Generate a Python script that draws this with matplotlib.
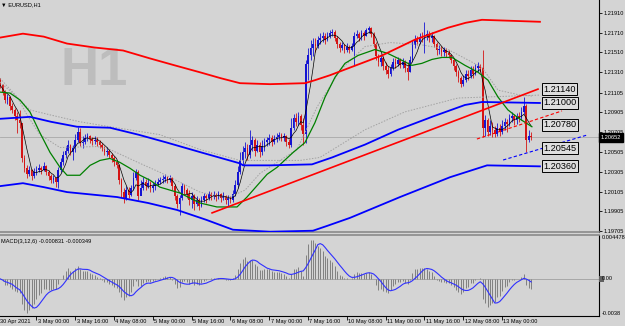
"""MT4-style EURUSD H1 chart with bands, trend lines and a MACD pane -> out.png"""
import matplotlib

matplotlib.use("Agg")
import matplotlib.pyplot as plt  # noqa: E402
import matplotlib.transforms as mtrans  # noqa: E402
from matplotlib.patches import Rectangle  # noqa: E402
import numpy as np  # noqa: E402
import pandas as pd  # noqa: E402

plt.rcParams["font.family"] = ["Liberation Sans", "DejaVu Sans"]

BG = "#d4d4d4"

# hourly bars; bar 0 = 3 May 00:00, first visible bar = 30 Apr 09:00
FIRST_BAR = -15
open_first = 1.2125
close = [
    1.2118, 1.2111, 1.2103, 1.2106, 1.2097, 1.2093, 1.2087, 1.2083, 1.2080, 1.2044,
    1.2034, 1.2028, 1.2032, 1.2026, 1.2030, 1.2032, 1.2034, 1.2032, 1.2036, 1.2030,
    1.2026, 1.2022, 1.2024, 1.2020, 1.2032, 1.2040, 1.2047, 1.2052, 1.2058, 1.2050,
    1.2055, 1.2063, 1.2071, 1.2060, 1.2061, 1.2065, 1.2067, 1.2064, 1.2062, 1.2063,
    1.2061, 1.2058, 1.2055, 1.2050, 1.2052, 1.2047, 1.2044, 1.2040, 1.2037, 1.2022,
    1.2010, 1.2004, 1.2012, 1.2007, 1.2014, 1.2024, 1.2030, 1.2006, 1.2014, 1.2020,
    1.2016, 1.2019, 1.2014, 1.2016, 1.2018, 1.2020, 1.2022, 1.2023, 1.2025, 1.2022,
    1.2024, 1.2016, 1.2006, 1.1998, 1.2004, 1.2016, 1.2012, 1.2008, 1.2002, 1.2006,
    1.1998, 1.2002, 1.1996, 1.2002, 1.2006, 1.2004, 1.2008, 1.2006, 1.2007, 1.2005,
    1.2008, 1.2004, 1.2006, 1.2002, 1.2004, 1.2002, 1.2008, 1.2017, 1.2030, 1.2042,
    1.2050, 1.2055, 1.2047, 1.2058, 1.2063, 1.2052, 1.2058, 1.2050, 1.2057, 1.2061,
    1.2063, 1.2065, 1.2061, 1.2064, 1.2066, 1.2068, 1.2065, 1.2067, 1.2061, 1.2058,
    1.2075, 1.2085, 1.2081, 1.2087, 1.2078, 1.2069, 1.2139, 1.2148, 1.2156, 1.2160,
    1.2158, 1.2164, 1.2166, 1.2168, 1.2164, 1.2168, 1.2171, 1.2172, 1.2166, 1.2160,
    1.2156, 1.2159, 1.2153, 1.2157, 1.2153, 1.2158, 1.2168, 1.2170, 1.2166, 1.2171,
    1.2168, 1.2174, 1.2176, 1.2170, 1.2160, 1.2147, 1.2141, 1.2145, 1.2137, 1.2133,
    1.2129, 1.2135, 1.2141, 1.2139, 1.2143, 1.2138, 1.2141, 1.2135, 1.2131, 1.2143,
    1.2159, 1.2164, 1.2162, 1.2167, 1.2166, 1.2169, 1.2170, 1.2166, 1.2168, 1.2160,
    1.2153, 1.2155, 1.2151, 1.2153, 1.2150, 1.2148, 1.2143, 1.2137, 1.2131, 1.2125,
    1.2119, 1.2123, 1.2129, 1.2127, 1.2133, 1.2129, 1.2135, 1.2137, 1.2135, 1.2075,
    1.2083, 1.2071, 1.2077, 1.2073, 1.2069, 1.2075, 1.2071, 1.2077, 1.2081, 1.2079,
    1.2085, 1.2087, 1.2083, 1.2087, 1.2085, 1.2091, 1.2097, 1.2063, 1.2067, 1.20652,
]
high = [
    1.2123, 1.2119, 1.2113, 1.2109, 1.2107, 1.2100, 1.2095, 1.2091, 1.2093, 1.2080,
    1.2047, 1.2037, 1.2036, 1.2033, 1.2034, 1.2036, 1.2038, 1.2036, 1.2040, 1.2037,
    1.2032, 1.2028, 1.2027, 1.2025, 1.2035, 1.2044, 1.2052, 1.2057, 1.2063, 1.2059,
    1.2058, 1.2069, 1.2076, 1.2075, 1.2067, 1.2069, 1.2070, 1.2068, 1.2066, 1.2067,
    1.2066, 1.2063, 1.2060, 1.2057, 1.2056, 1.2054, 1.2049, 1.2046, 1.2042, 1.2038,
    1.2024, 1.2014, 1.2016, 1.2015, 1.2017, 1.2030, 1.2033, 1.2032, 1.2022, 1.2025,
    1.2023, 1.2024, 1.2021, 1.2020, 1.2022, 1.2024, 1.2025, 1.2027, 1.2028, 1.2026,
    1.2027, 1.2025, 1.2018, 1.2008, 1.2007, 1.2019, 1.2018, 1.2014, 1.2012, 1.2010,
    1.2008, 1.2006, 1.2004, 1.2006, 1.2009, 1.2008, 1.2011, 1.2010, 1.2011, 1.2009,
    1.2011, 1.2009, 1.2010, 1.2007, 1.2007, 1.2006, 1.2012, 1.2022, 1.2036, 1.2050,
    1.2057, 1.2061, 1.2059, 1.2073, 1.2067, 1.2065, 1.2063, 1.2061, 1.2063, 1.2065,
    1.2066, 1.2069, 1.2068, 1.2068, 1.2070, 1.2071, 1.2070, 1.2070, 1.2068, 1.2064,
    1.2085, 1.2089, 1.2090, 1.2091, 1.2089, 1.2085, 1.2143, 1.2156, 1.2164, 1.2166,
    1.2166, 1.2168, 1.2171, 1.2172, 1.2171, 1.2172, 1.2174, 1.2175, 1.2174, 1.2168,
    1.2162, 1.2162, 1.2160, 1.2161, 1.2159, 1.2161, 1.2172, 1.2174, 1.2172, 1.2174,
    1.2173, 1.2176, 1.2178, 1.2177, 1.2172, 1.2162, 1.2149, 1.2149, 1.2147, 1.2141,
    1.2137, 1.2139, 1.2145, 1.2145, 1.2146, 1.2145, 1.2145, 1.2143, 1.2141, 1.2147,
    1.2164, 1.2169, 1.2168, 1.2171, 1.2172, 1.2182, 1.2174, 1.2173, 1.2172, 1.2169,
    1.2162, 1.2159, 1.2158, 1.2157, 1.2156, 1.2153, 1.2149, 1.2145, 1.2139, 1.2133,
    1.2127, 1.2128, 1.2133, 1.2133, 1.2137, 1.2137, 1.2139, 1.2141, 1.2139, 1.2153,
    1.2088, 1.2085, 1.2083, 1.2081, 1.2077, 1.2080, 1.2079, 1.2083, 1.2085, 1.2084,
    1.2089, 1.2091, 1.2089, 1.2090, 1.2091, 1.2096, 1.2106, 1.2099, 1.2073, 1.2071,
]
low = [
    1.2115, 1.2108, 1.2100, 1.2099, 1.2093, 1.2090, 1.2083, 1.2070, 1.2075, 1.2040,
    1.2030, 1.2024, 1.2026, 1.2022, 1.2024, 1.2027, 1.2030, 1.2028, 1.2031, 1.2027,
    1.2022, 1.2019, 1.2019, 1.2015, 1.2014, 1.2030, 1.2037, 1.2044, 1.2049, 1.2047,
    1.2042, 1.2050, 1.2061, 1.2057, 1.2055, 1.2059, 1.2062, 1.2060, 1.2058, 1.2059,
    1.2057, 1.2055, 1.2051, 1.2047, 1.2046, 1.2044, 1.2040, 1.2036, 1.2034, 1.2018,
    1.2005, 1.1999, 1.2002, 1.2004, 1.2006, 1.2012, 1.2022, 1.2002, 1.2007, 1.2012,
    1.2012, 1.2014, 1.2010, 1.2010, 1.2012, 1.2016, 1.2018, 1.2019, 1.2020, 1.2019,
    1.2020, 1.2012, 1.2002, 1.1994, 1.1987, 1.2002, 1.2008, 1.2004, 1.1997, 1.1994,
    1.1992, 1.1996, 1.1992, 1.1995, 1.2000, 1.1999, 1.2002, 1.2002, 1.2003, 1.2001,
    1.2003, 1.2000, 1.2002, 1.1998, 1.1996, 1.1999, 1.2000, 1.2006, 1.2014, 1.2028,
    1.2037, 1.2044, 1.2042, 1.2044, 1.2052, 1.2046, 1.2050, 1.2045, 1.2047, 1.2052,
    1.2057, 1.2058, 1.2057, 1.2059, 1.2061, 1.2063, 1.2062, 1.2062, 1.2057, 1.2055,
    1.2056, 1.2073, 1.2077, 1.2078, 1.2073, 1.2058, 1.2060, 1.2123, 1.2143, 1.2147,
    1.2151, 1.2156, 1.2160, 1.2162, 1.2160, 1.2163, 1.2166, 1.2168, 1.2163, 1.2156,
    1.2151, 1.2153, 1.2150, 1.2151, 1.2150, 1.2152, 1.2138, 1.2166, 1.2163, 1.2164,
    1.2164, 1.2168, 1.2171, 1.2167, 1.2157, 1.2143, 1.2137, 1.2137, 1.2133, 1.2129,
    1.2125, 1.2127, 1.2133, 1.2135, 1.2137, 1.2135, 1.2135, 1.2131, 1.2123, 1.2131,
    1.2141, 1.2156, 1.2159, 1.2160, 1.2162, 1.2150, 1.2164, 1.2162, 1.2162, 1.2157,
    1.2148, 1.2149, 1.2147, 1.2147, 1.2146, 1.2145, 1.2140, 1.2133, 1.2127, 1.2121,
    1.2116, 1.2117, 1.2121, 1.2123, 1.2125, 1.2125, 1.2128, 1.2131, 1.2131, 1.2066,
    1.2067, 1.2067, 1.2068, 1.2066, 1.2066, 1.2067, 1.2067, 1.2069, 1.2073, 1.2071,
    1.2077, 1.2081, 1.2078, 1.2079, 1.2081, 1.2083, 1.2089, 1.2050, 1.2061, 1.2063,
]

# indicator lines: (bar index, price) vertices
red_band_i = [-15.1, -5.6, 3.0, 12.6, 24.0, 35.7, 46.8, 57.0, 67.4, 76.0, 83.9, 96.3,
              110.7, 114.8, 121.0, 128.5, 142.5, 156.1, 169.7, 177.0, 183.7, 207.6]
red_band_p = [1.2166, 1.2170, 1.2167, 1.2160, 1.2156, 1.2153, 1.2145, 1.2138, 1.2131, 1.2125,
              1.2120, 1.2119, 1.2120, 1.2123, 1.2128, 1.2135, 1.2148, 1.2164, 1.2176, 1.2181,
              1.2184, 1.2182]
upper_blue_i = [-15.1, -2.7, 6.0, 16.7, 30.3, 42.0, 53.8, 68.0, 83.9, 85.2, 96.3, 113.6,
                121.9, 135.5, 149.1, 163.1, 176.7, 183.7, 207.6]
upper_blue_p = [1.2084, 1.2086, 1.2081, 1.2076, 1.2075, 1.2068, 1.2060, 1.2050, 1.2039,
                1.2037, 1.2037, 1.2038, 1.2045, 1.2058, 1.2073, 1.2086, 1.2098, 1.2101, 1.2100]
lower_blue_i = [-15.1, -5.6, 3.0, 12.6, 33.2, 46.0, 57.9, 70.0, 81.0, 96.3, 114.0, 120.0,
                129.3, 149.9, 170.5, 185.8, 207.6]
lower_blue_p = [1.2016, 1.2019, 1.2015, 1.2010, 1.2005, 1.1999, 1.1992, 1.1982, 1.1972,
                1.1970, 1.1971, 1.1976, 1.1984, 1.2005, 1.2025, 1.2037, 1.2036]
green_i = [-15.1, -10.9, -6.8, -2.7, 1.4, 5.6, 9.7, 12.6, 17.9, 22.1, 26.2, 30.3,
           34.4, 38.6, 42.7, 46.8, 50.9, 59.2, 67.4, 74.4, 82.7, 86.8, 92.2, 95.1,
           99.2, 105.8, 110.7, 114.8, 119.0, 123.1, 127.2, 132.6, 139.6, 144.9, 149.1,
           154.8, 158.9, 163.1, 167.2, 171.3, 176.7, 182.1, 186.2, 190.3, 194.4, 198.6, 204.3]
green_p = [1.2111, 1.2110, 1.2103, 1.2091, 1.2070, 1.2050, 1.2035, 1.2027, 1.2027, 1.2037,
           1.2042, 1.2044, 1.2040, 1.2034, 1.2027, 1.2022, 1.2015, 1.2009, 1.1999, 1.1995,
           1.1995, 1.2005, 1.2020, 1.2028, 1.2035, 1.2050, 1.2060, 1.2080, 1.2106, 1.2126,
           1.2140, 1.2148, 1.2154, 1.2150, 1.2145, 1.2138, 1.2140, 1.2144, 1.2146, 1.2146,
           1.2138, 1.2131, 1.2123, 1.2106, 1.2093, 1.2085, 1.2076]
dot_a_i = [-15.1, -8.9, -2.7, 5.6, 17.9, 30.3, 50.9, 67.4, 83.9, 108.7, 116.9,
           135.5, 151.9, 173.8, 207.6]
dot_a_p = [1.2121, 1.2108, 1.2093, 1.2088, 1.2081, 1.2076, 1.2068, 1.2053, 1.2042, 1.2042,
           1.2045, 1.2073, 1.2091, 1.2105, 1.2108]
dot_b_i = [-15.1, -8.0, -3.9, 1.4, 9.7, 24.9, 30.3, 42.7, 50.9, 67.4, 78.6, 86.0,
           92.2, 107.4, 115.7, 125.2, 135.5, 145.8, 158.1, 169.7, 183.7, 190.3, 199.4, 204.3]
dot_b_p = [1.2125, 1.2106, 1.2088, 1.2068, 1.2055, 1.2056, 1.2053, 1.2039, 1.2030, 1.2010,
           1.2004, 1.2012, 1.2029, 1.2053, 1.2096, 1.2133, 1.2157, 1.2161, 1.2159, 1.2154,
           1.2136, 1.2113, 1.2108, 1.2107]
trend_i, trend_p = [72.4, 206.8], [1.1989, 1.2114]
red_dash_i, red_dash_p = [181.6, 216.7], [1.20636, 1.2092]
blue_dash_i, blue_dash_p = [192.4, 227.0], [1.20424, 1.20676]

line_labels = ["1.21140", "1.21000", "1.20780", "1.20545", "1.20360"]
price_ticks = [1.2191, 1.2171, 1.2151, 1.2131, 1.21105, 1.20905,
               1.20705, 1.20505, 1.20305, 1.20105, 1.19905, 1.19705]
xtick_bars = [-16, 0, 16, 32, 48, 64, 80, 96, 112, 128, 144, 160, 176, 192]
xtick_labels = ["30 Apr 2021", "3 May 00:00", "3 May 16:00", "4 May 08:00", "5 May 00:00",
                "5 May 16:00", "6 May 08:00", "7 May 00:00", "7 May 16:00", "10 May 08:00",
                "11 May 00:00", "11 May 16:00", "12 May 08:00", "13 May 00:00"]
macd_text = "MACD(3,12,6) -0.000831 -0.000349"


def main() -> None:
    c = np.array(close)
    h = np.array(high)
    lo = np.array(low)
    o = np.r_[open_first, c[:-1]]
    x = np.arange(FIRST_BAR, FIRST_BAR + len(c))
    last = c[-1]

    W, H = 625, 326
    fig = plt.figure(figsize=(W / 100, H / 100), dpi=100, facecolor=BG)
    ax = fig.add_axes([0, 94 / H, 599 / W, 232 / H], facecolor=BG)
    ax2 = fig.add_axes([0, 10 / H, 599 / W, 81 / H], facecolor=BG)
    xlim = (-15.05, 231.96)

    # --- price pane
    ax.axhline(last, color="#a8a8a8", lw=0.6, zorder=1)
    cols = np.where(c >= o, "#1414d2", "#d41414")
    ax.vlines(x, lo, np.maximum(h, np.maximum(o, c)), colors=cols, lw=0.6, zorder=2)
    ax.bar(x, np.maximum(np.abs(c - o), 0.00004), bottom=np.minimum(o, c),
           width=0.7, color=cols, lw=0, zorder=2.1)

    ax.plot(dot_a_i, dot_a_p, color="#a2a2a2", lw=0.7, ls=(0, (1.5, 1.5)), zorder=2.5)
    ax.plot(dot_b_i, dot_b_p, color="#a2a2a2", lw=0.7, ls=(0, (1.5, 1.5)), zorder=2.5)
    ax.plot(x, pd.Series(c).rolling(5, min_periods=1).mean(), color="black", lw=0.5, zorder=3)
    ax.plot(green_i, green_p, color="#008000", lw=0.9, zorder=3)
    ax.plot(red_band_i, red_band_p, color="#ff0000", lw=1.3, zorder=3)
    ax.plot(upper_blue_i, upper_blue_p, color="#0000ff", lw=1.3, zorder=3)
    ax.plot(lower_blue_i, lower_blue_p, color="#0000ff", lw=1.3, zorder=3)
    ax.plot(trend_i, trend_p, color="#ff0000", lw=1.2, zorder=3)
    ax.plot(red_dash_i, red_dash_p, color="#ff0000", lw=0.8, ls=(0, (3, 2)), zorder=3)
    ax.plot(blue_dash_i, blue_dash_p, color="#0000ff", lw=0.8, ls=(0, (3, 2)), zorder=3)

    for lab in line_labels:
        ax.text(208.9, float(lab), lab, ha="left", va="center", fontsize=6.6, zorder=5,
                bbox=dict(boxstyle="square,pad=0.15", fc="#dedede", ec="black", lw=0.7))

    ax.text(61 / W, 1 - 85 / H, "H1", transform=fig.transFigure, fontsize=38,
            fontweight="bold", color="#bdbdbd", ha="left", va="baseline", zorder=0.5)

    ax.set_xlim(*xlim)
    ax.set_ylim(1.19697, 1.2204)
    ax.yaxis.tick_right()
    ax.set_yticks(price_ticks, [f"{v:.5f}" for v in price_ticks])
    ax.tick_params(axis="y", length=2, width=0.6, pad=1, labelsize=4.1)
    ax.tick_params(axis="x", bottom=False, labelbottom=False)
    for s in ("left", "top"):
        ax.spines[s].set_visible(False)
    ax.spines["right"].set(color="black", lw=0.8)
    ax.spines["bottom"].set(color="#8a8a8a", lw=1.2)
    bt = mtrans.blended_transform_factory(ax.transAxes, ax.transData)
    ax.text(1.0 + 1.5 / 599, last, f"{last:.5f}", transform=bt, ha="left", va="center",
            color="white", fontsize=4.1, zorder=6,
            bbox=dict(boxstyle="square,pad=0.3", fc="black", ec="black"))

    # --- MACD pane
    s = pd.Series(c)
    macd = s.ewm(span=3, adjust=False).mean() - s.ewm(span=12, adjust=False).mean()
    signal = macd.rolling(6, min_periods=1).mean()
    ax2.axhline(0, color="#a0a0a0", lw=0.6, zorder=1)
    ax2.vlines(x, 0, macd, colors="#808080", lw=0.7, zorder=2)
    ax2.plot(x, signal, color="#3030ff", lw=0.8, zorder=3)
    ax2.set_xlim(*xlim)
    ax2.set_ylim(-0.0038, 0.004478)
    ax2.set_yticks([])
    ax2.set_xticks([t for t in xtick_bars if t >= xlim[0]])
    ax2.tick_params(axis="x", length=3, width=0.6, labelbottom=False)
    ax2.spines["left"].set_visible(False)
    ax2.spines["top"].set(color="#8a8a8a", lw=1.2)
    ax2.spines["right"].set(color="black", lw=0.8)
    ax2.spines["bottom"].set(color="black", lw=0.8)
    bx = mtrans.blended_transform_factory(ax2.transData, ax2.transAxes)
    for t, lab in zip(xtick_bars, xtick_labels):
        xpos = max(t + 0.5, xlim[0] + 0.1)  # first tick is off-screen: pin label to the edge
        ax2.text(xpos, -0.035, lab, transform=bx, ha="left", va="top",
                 fontsize=4.1, clip_on=False)
    by = mtrans.blended_transform_factory(ax2.transAxes, ax2.transData)
    ax2.text(1.005, 0.004478, "0.004478", transform=by, ha="left", va="top", fontsize=4.1)
    ax2.text(1.005, -0.0038, "-0.0038", transform=by, ha="left", va="bottom", fontsize=4.1)
    ax2.text(1.005, 0, "0.00", transform=by, ha="left", va="center", fontsize=4.1, zorder=4)
    ax2.add_patch(Rectangle((1.0, -0.00028), 5 / 599, 0.00056, transform=by,
                            clip_on=False, fc="#606060", ec="none", zorder=3))

    fig.text(1 / W, 1 - 4.5 / H, "▼ EURUSD,H1", fontsize=4.1, va="center", ha="left")
    fig.text(1 / W, 1 - 241 / H, macd_text, fontsize=4.1, va="center", ha="left")

    fig.savefig("out.png", dpi=100, facecolor=BG)


if __name__ == "__main__":
    main()
